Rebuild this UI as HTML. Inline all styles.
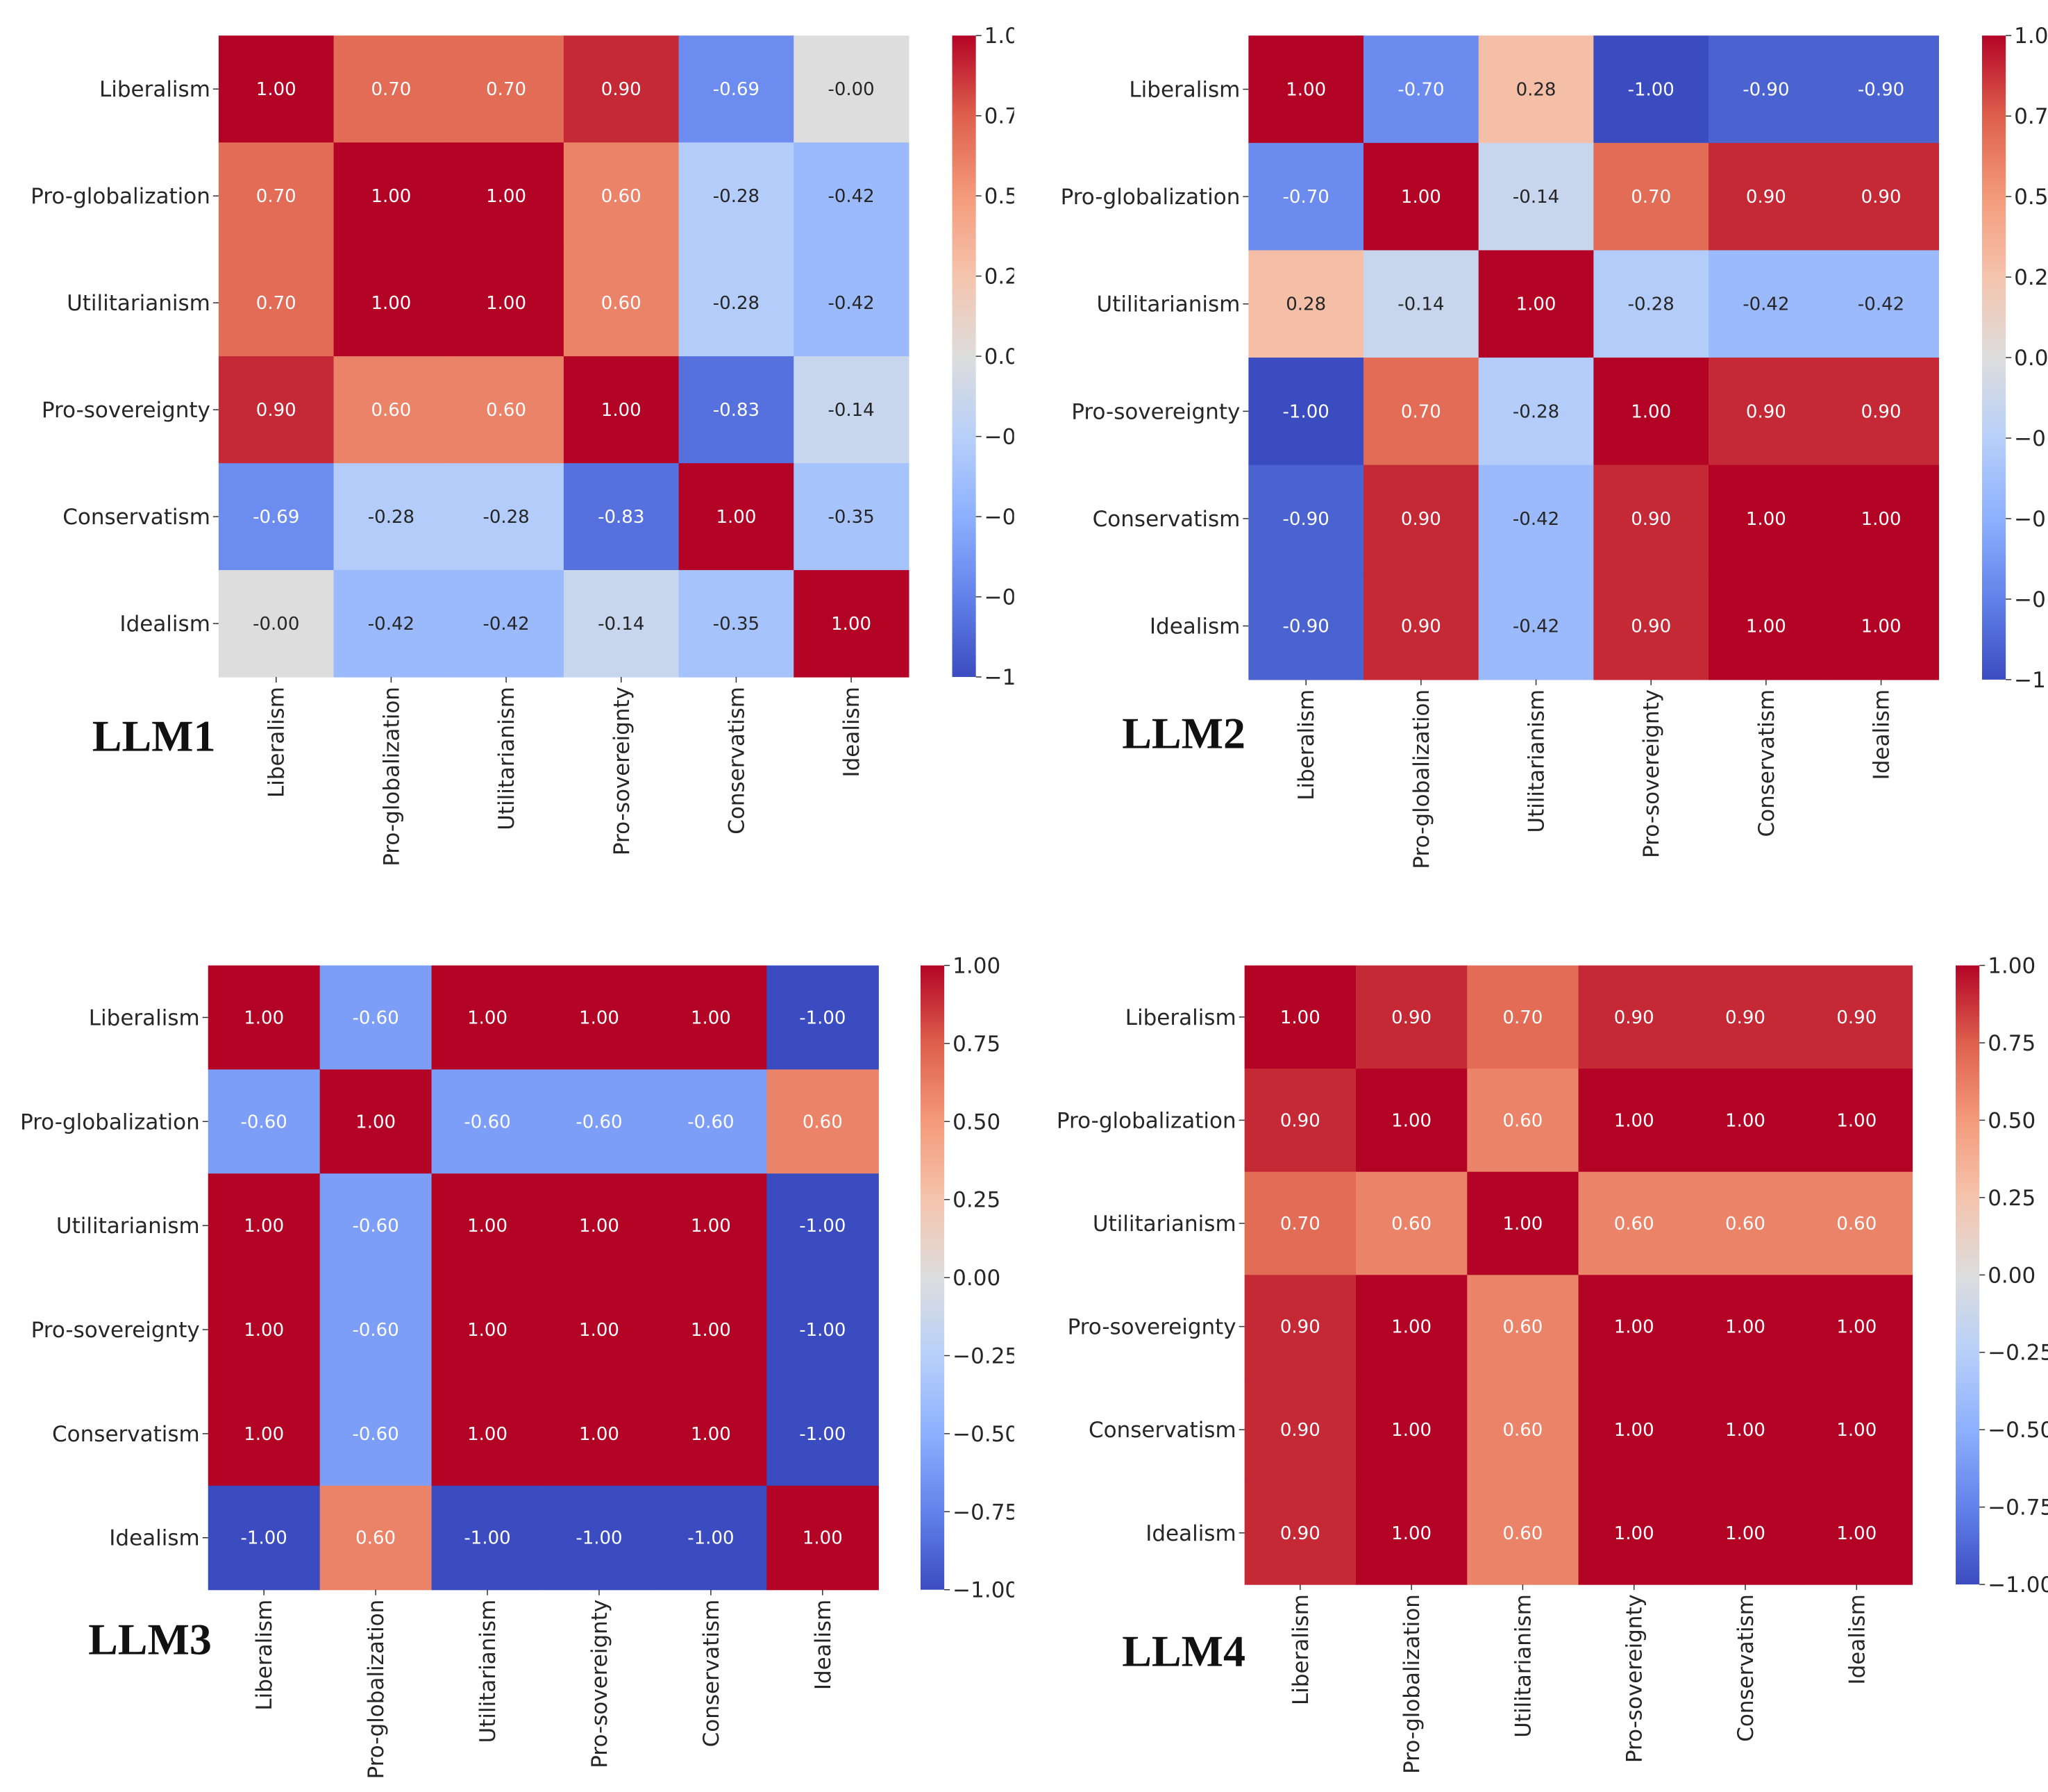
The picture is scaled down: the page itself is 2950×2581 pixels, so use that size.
<!DOCTYPE html>
<html><head><meta charset="utf-8"><style>
html,body{margin:0;padding:0;background:#fff}
svg{display:block}
</style></head><body>
<svg id="chart" width="2950" height="2581" viewBox="0 0 2950 2581" xmlns="http://www.w3.org/2000/svg">
<rect width="2950" height="2581" fill="#fff"/>
</svg>
<script>
const categories = ["Liberalism","Pro-globalization","Utilitarianism","Pro-sovereignty","Conservatism","Idealism"];
const colorbarTicks = [1.00,0.75,0.50,0.25,0.00,-0.25,-0.50,-0.75,-1.00];
const panelTitles = ["LLM1","LLM2","LLM3","LLM4"];
const llm1Values = [
 [1.00,0.70,0.70,0.90,-0.69,-0.00],
 [0.70,1.00,1.00,0.60,-0.28,-0.42],
 [0.70,1.00,1.00,0.60,-0.28,-0.42],
 [0.90,0.60,0.60,1.00,-0.83,-0.14],
 [-0.69,-0.28,-0.28,-0.83,1.00,-0.35],
 [-0.00,-0.42,-0.42,-0.14,-0.35,1.00]];
const llm2Values = [
 [1.00,-0.70,0.28,-1.00,-0.90,-0.90],
 [-0.70,1.00,-0.14,0.70,0.90,0.90],
 [0.28,-0.14,1.00,-0.28,-0.42,-0.42],
 [-1.00,0.70,-0.28,1.00,0.90,0.90],
 [-0.90,0.90,-0.42,0.90,1.00,1.00],
 [-0.90,0.90,-0.42,0.90,1.00,1.00]];
const llm3Values = [
 [1.00,-0.60,1.00,1.00,1.00,-1.00],
 [-0.60,1.00,-0.60,-0.60,-0.60,0.60],
 [1.00,-0.60,1.00,1.00,1.00,-1.00],
 [1.00,-0.60,1.00,1.00,1.00,-1.00],
 [1.00,-0.60,1.00,1.00,1.00,-1.00],
 [-1.00,0.60,-1.00,-1.00,-1.00,1.00]];
const llm4Values = [
 [1.00,0.90,0.70,0.90,0.90,0.90],
 [0.90,1.00,0.60,1.00,1.00,1.00],
 [0.70,0.60,1.00,0.60,0.60,0.60],
 [0.90,1.00,0.60,1.00,1.00,1.00],
 [0.90,1.00,0.60,1.00,1.00,1.00],
 [0.90,1.00,0.60,1.00,1.00,1.00]];
const allValues=[llm1Values,llm2Values,llm3Values,llm4Values];

const S=1.897;
const layouts=[
 {x0:166,y0:27,x1:690,y1:514,cb:723,clip:770,tx:70,ty:570},
 {x0:948,y0:27,x1:1472,y1:516,cb:1505,clip:1560,tx:852,ty:568},
 {x0:158,y0:733,x1:667,y1:1207,cb:699,clip:770,tx:67,ty:1256},
 {x0:945,y0:733,x1:1452,y1:1203,cb:1485,clip:1560,tx:852,ty:1265}];

const stops=[[59,76,192],[98,130,234],[141,176,254],[184,208,249],[221,221,221],[245,196,173],[244,154,123],[222,96,77],[180,4,38]];
function cmap(v){let t=(v+1)/2;t=Math.max(0,Math.min(1,t));const p=t*8;const i=Math.min(7,Math.floor(p));const f=p-i;
 return stops[i].map((a,k)=>Math.round(a+(stops[i+1][k]-a)*f));}
function lum(c){const l=c.map(x=>{x/=255;return x<=0.03928?x/12.92:Math.pow((x+0.055)/1.055,2.4)});return 0.2126*l[0]+0.7152*l[1]+0.0722*l[2];}
const NS="http://www.w3.org/2000/svg";
const svg=document.getElementById('chart');
function el(tag,attrs,parent){const e=document.createElementNS(NS,tag);for(const k in attrs)e.setAttribute(k,attrs[k]);(parent||svg).appendChild(e);return e;}
const defs=el('defs',{});
const grad=el('linearGradient',{id:'cbg',x1:0,y1:1,x2:0,y2:0},defs);
stops.forEach((c,i)=>el('stop',{offset:(i/8),'stop-color':`rgb(${c})`},grad));
const FF='DejaVu Sans, Liberation Sans, sans-serif';

layouts.forEach((L,pi)=>{
 const vals=allValues[pi];
 const X0=L.x0*S,Y0=L.y0*S,X1=L.x1*S,Y1=L.y1*S;
 const cw=(X1-X0)/6,ch=(Y1-Y0)/6;
 const xs=j=>X0+j*cw, ys=i=>Y0+i*ch;
 const cp=el('clipPath',{id:'clip'+pi},defs);
 el('rect',{x:0,y:0,width:L.clip*S,height:2581},cp);
 const g=el('g',{'clip-path':`url(#clip${pi})`});
 
 
 vals.forEach((row,i)=>row.forEach((v,j)=>{
  const c=cmap(v);
  const r=el('rect',{x:xs(j),y:ys(i),width:cw+0.6,height:ch+0.6,fill:`rgb(${c})`},g);
  
  
  const t=el('text',{x:xs(j)+cw/2,y:ys(i)+ch/2+9,'text-anchor':'middle','font-family':FF,'font-size':26,fill:lum(c)>0.408?'#262626':'#ffffff'},g);
  t.textContent=(v===0&&1/v<0)?'-0.00':v.toFixed(2);
  
  
 }));
 categories.forEach((c,i)=>{
  const yc=ys(i)+ch/2;
  el('line',{x1:X0-8,y1:yc,x2:X0,y2:yc,stroke:'#333','stroke-width':1.5},g);
  const t=el('text',{x:X0-12,y:yc+11,'text-anchor':'end','font-family':FF,'font-size':31,fill:'#262626'},g);
  t.textContent=c;
  
  
  const xc=xs(i)+cw/2;
  el('line',{x1:xc,y1:Y1,x2:xc,y2:Y1+8,stroke:'#333','stroke-width':1.5},g);
  const t2=el('text',{x:0,y:0,'text-anchor':'end','font-family':FF,'font-size':31,fill:'#262626',transform:`translate(${xc+11},${Y1+14}) rotate(-90)`},g);
  t2.textContent=c;
  
  
 });
 const cbx=L.cb*S,cbw=18*S;
 const cb=el('rect',{x:cbx,y:Y0,width:cbw,height:Y1-Y0,fill:'url(#cbg)'},g);
 
 
 const cy=v=>Y0+(1-v)/2*(Y1-Y0);
 colorbarTicks.forEach(v=>{
  el('line',{x1:cbx+cbw,y1:cy(v),x2:cbx+cbw+8,y2:cy(v),stroke:'#333','stroke-width':1.5},g);
  const t=el('text',{x:cbx+cbw+12,y:cy(v)+11,'font-family':FF,'font-size':31,fill:'#262626'},g);
  t.textContent=v.toFixed(2).replace('-','\u2212');
  
  
 });
 const tt=el('text',{x:L.tx*S,y:L.ty*S,'font-family':'Liberation Serif, serif','font-weight':'bold','font-size':64,fill:'#111'});
 tt.textContent=panelTitles[pi];
 
 
});
</script>
</body></html>
